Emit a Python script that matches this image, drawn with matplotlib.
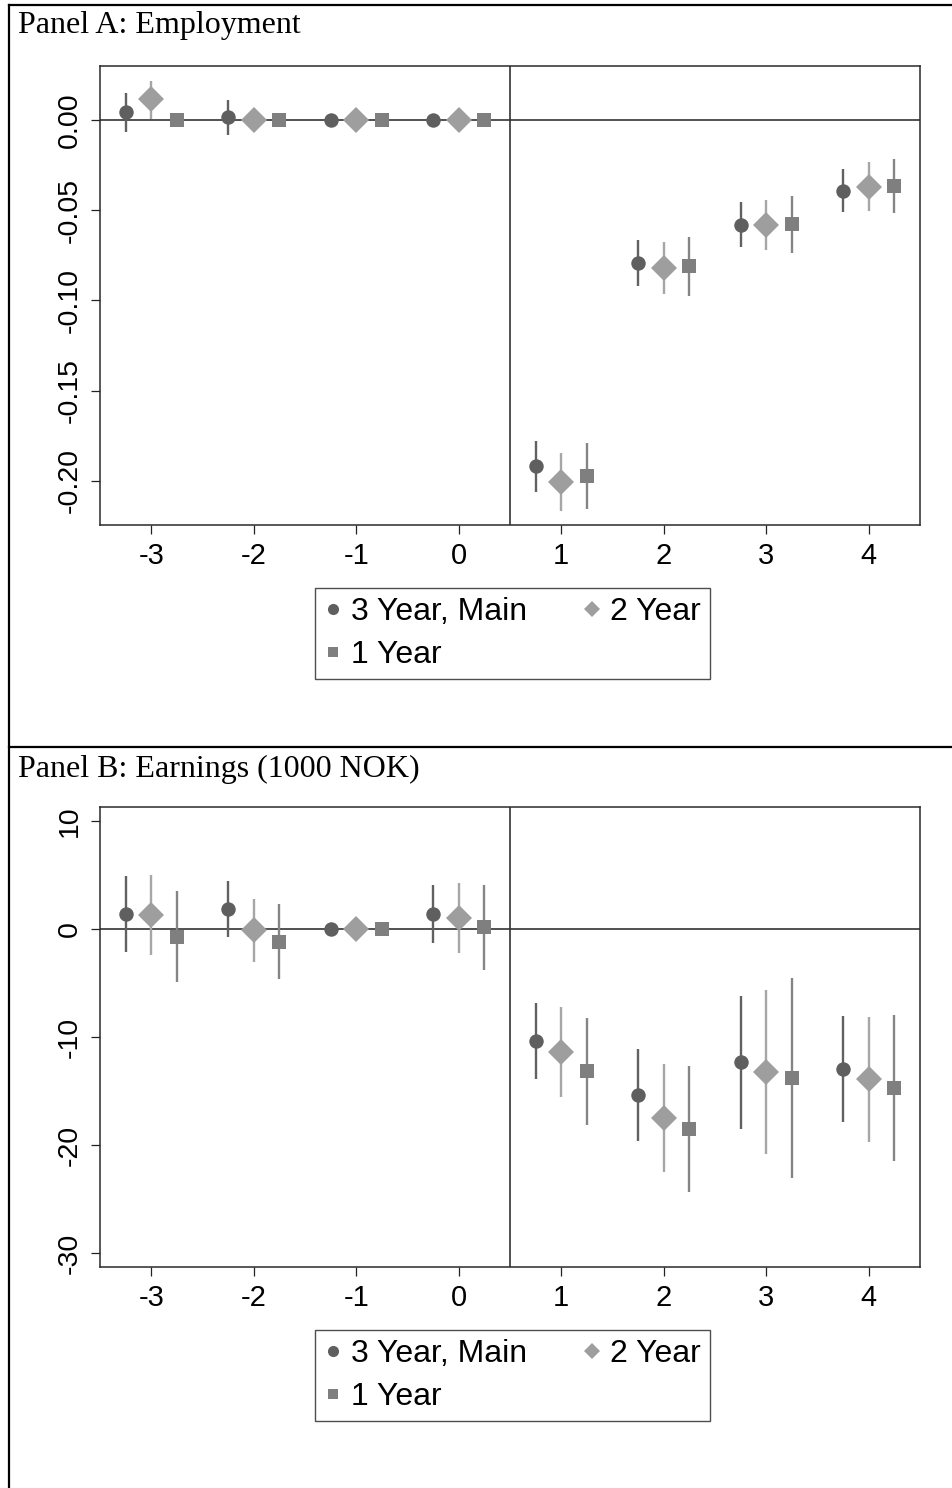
import matplotlib
matplotlib.use("Agg")
import matplotlib.pyplot as plt
from matplotlib.lines import Line2D
import numpy as np

# ---------------- data ----------------
periods = [-3, -2, -1, 0, 1, 2, 3, 4]
series_labels = ["3 Year, Main", "2 Year", "1 Year"]

# Panel A: Employment
emp_3y = [0.0043, 0.0015, 0.0, 0.0, -0.1918, -0.0791, -0.0582, -0.0394]
emp_3y_lo = [-0.0068, -0.0083, 0.0, 0.0, -0.2060, -0.0918, -0.0704, -0.0512]
emp_3y_hi = [0.0153, 0.0110, 0.0, 0.0, -0.1779, -0.0665, -0.0456, -0.0273]
emp_2y = [0.0115, 0.0, 0.0, 0.0, -0.2005, -0.0819, -0.0584, -0.0370]
emp_2y_lo = [0.0004, 0.0, 0.0, 0.0, -0.2166, -0.0963, -0.0721, -0.0503]
emp_2y_hi = [0.0218, 0.0, 0.0, 0.0, -0.1844, -0.0676, -0.0443, -0.0235]
emp_1y = [0.0, 0.0, 0.0, 0.0, -0.1973, -0.0809, -0.0578, -0.0366]
emp_1y_lo = [0.0, 0.0, 0.0, 0.0, -0.2158, -0.0974, -0.0736, -0.0514]
emp_1y_hi = [0.0, 0.0, 0.0, 0.0, -0.1792, -0.0650, -0.0421, -0.0216]

# Panel B: Earnings (1000 NOK)
earn_3y = [1.45, 1.91, 0.0, 1.45, -10.34, -15.33, -12.34, -12.90]
earn_3y_lo = [-2.06, -0.68, 0.0, -1.23, -13.91, -19.58, -18.50, -17.85]
earn_3y_hi = [4.92, 4.46, 0.0, 4.09, -6.83, -11.08, -6.22, -8.00]
earn_2y = [1.29, -0.09, 0.0, 1.08, -11.39, -17.48, -13.23, -13.91]
earn_2y_lo = [-2.40, -3.02, 0.0, -2.15, -15.54, -22.47, -20.78, -19.67]
earn_2y_hi = [5.01, 2.77, 0.0, 4.31, -7.17, -12.47, -5.63, -8.16]
earn_1y = [-0.68, -1.14, 0.0, 0.25, -13.17, -18.50, -13.79, -14.71]
earn_1y_lo = [-4.92, -4.62, 0.0, -3.76, -18.10, -24.31, -23.08, -21.49]
earn_1y_hi = [3.54, 2.37, 0.0, 4.15, -8.25, -12.65, -4.55, -7.91]

emp_yticks = [0.0, -0.05, -0.10, -0.15, -0.20]
emp_yticklabels = ["0.00", "-0.05", "-0.10", "-0.15", "-0.20"]
earn_yticks = [10, 0, -10, -20, -30]
earn_yticklabels = ["10", "0", "-10", "-20", "-30"]

panel_titles = ["Panel A: Employment", "Panel B: Earnings (1000 NOK)"]

# ---------------- style ----------------
W, H = 953, 1488
DPI = 100
fig = plt.figure(figsize=(W / DPI, H / DPI), dpi=DPI)
fig.patch.set_facecolor("white")

SANS = ["Liberation Sans", "DejaVu Sans"]
SERIF = ["Liberation Serif", "DejaVu Serif"]

styles = [
    dict(marker="o", color="#5f5f5f", ecolor="#616161", ms=10.4, off=-0.25, lms=8.0),
    dict(marker="D", color="#9e9e9e", ecolor="#a6a6a6", ms=12.8, off=0.0, lms=8.4),
    dict(marker="s", color="#7f7f7f", ecolor="#858585", ms=10.0, off=0.25, lms=7.6),
]


def px_x(x):
    return x / W


def px_y(y):
    return 1 - y / H


def draw_panel(ax, data, yticks, yticklabels, ylim):
    x = np.array(periods, dtype=float)
    for (est, lo, hi), st in zip(data, styles):
        est = np.array(est)
        lo = np.array(lo)
        hi = np.array(hi)
        xs = x + st["off"]
        ax.vlines(xs, lo, hi, colors=st["ecolor"], linewidth=1.7, zorder=3)
        ax.plot(xs, est, linestyle="none", marker=st["marker"], color=st["color"],
                markersize=st["ms"], markeredgewidth=0, zorder=4)
    ax.axhline(0, color="#333333", linewidth=1.2, zorder=2)
    ax.axvline(0.5, color="#333333", linewidth=1.2, zorder=2)
    ax.set_xlim(-3.5, 4.5)
    ax.set_ylim(*ylim)
    ax.set_xticks(periods)
    ax.set_xticklabels([str(p) for p in periods], fontfamily=SANS, fontsize=21)
    ax.set_yticks(yticks)
    ax.set_yticklabels(yticklabels, fontfamily=SANS, fontsize=20.5,
                       rotation=90, va="center")
    ax.tick_params(axis="both", direction="out", length=6.5, width=0.9,
                   color="#222222", pad=6)
    for sp in ax.spines.values():
        sp.set_color("#2a2a2a")
        sp.set_linewidth(1.1)


def add_legend(ax, y_top_px):
    handles = []
    for st, lab in zip(styles, series_labels):
        handles.append(Line2D([], [], linestyle="none", marker=st["marker"],
                              color=st["color"], markersize=st["lms"],
                              markeredgewidth=0, label=lab))
    order = [0, 2, 1]
    leg = fig.legend([handles[i] for i in order], [series_labels[i] for i in order],
                     ncol=2, loc="upper left",
                     bbox_to_anchor=(px_x(315), px_y(y_top_px)),
                     bbox_transform=fig.transFigure,
                     prop=dict(family=SANS, size=23),
                     frameon=True, fancybox=False, edgecolor="#222222",
                     handlelength=0.55, handletextpad=0.3, columnspacing=1.75,
                     labelspacing=0.4, borderpad=0.28, borderaxespad=0.0)
    leg.get_frame().set_linewidth(1.0)
    return leg


# Panel A
axA = fig.add_axes([px_x(100), px_y(525), px_x(920) - px_x(100), (525 - 66) / H])
draw_panel(axA,
           [(emp_3y, emp_3y_lo, emp_3y_hi), (emp_2y, emp_2y_lo, emp_2y_hi),
            (emp_1y, emp_1y_lo, emp_1y_hi)],
           emp_yticks, emp_yticklabels, (-0.2245, 0.030))
add_legend(axA, 588)

# Panel B
axB = fig.add_axes([px_x(100), px_y(1267), px_x(920) - px_x(100), (1267 - 807) / H])
draw_panel(axB,
           [(earn_3y, earn_3y_lo, earn_3y_hi), (earn_2y, earn_2y_lo, earn_2y_hi),
            (earn_1y, earn_1y_lo, earn_1y_hi)],
           earn_yticks, earn_yticklabels, (-31.3, 11.34))
add_legend(axB, 1330)

# Panel titles
fig.text(px_x(18), px_y(26), panel_titles[0], fontfamily=SERIF, fontsize=23,
         va="center", ha="left", color="black")
fig.text(px_x(18), px_y(769), panel_titles[1], fontfamily=SERIF, fontsize=23,
         va="center", ha="left", color="black")

# Frame lines (document table borders)
frame_kw = dict(color="black", linewidth=1.6, transform=fig.transFigure)
fig.add_artist(Line2D([px_x(9.5), px_x(9.5)], [px_y(4.5), 0], **frame_kw))
fig.add_artist(Line2D([px_x(9.5), 1], [px_y(4.5), px_y(4.5)], **frame_kw))
fig.add_artist(Line2D([px_x(9.5), 1], [px_y(747), px_y(747)], **frame_kw))

fig.savefig("out.png", dpi=DPI, facecolor="white")
